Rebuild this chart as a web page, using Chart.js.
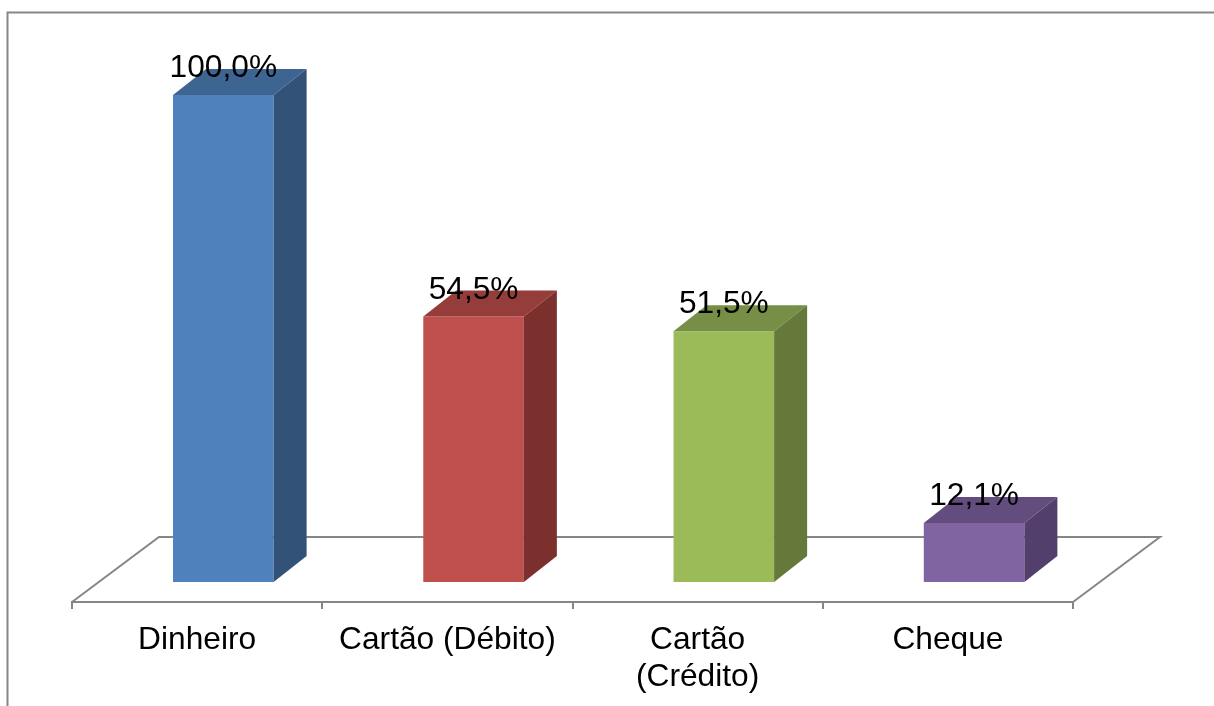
<!DOCTYPE html>
<html>
<head>
<meta charset="utf-8">
<title>Chart</title>
<style>
  html, body { margin: 0; padding: 0; background: #fff; overflow: hidden; }
  canvas { display: block; }
</style>
<script src="https://cdn.jsdelivr.net/npm/chart.js@4"></script>
</head>
<body>
<canvas id="paymentChart" width="1214" height="706"></canvas>
<script>
const categories = ["Dinheiro", "Cartão (Débito)", ["Cartão", "(Crédito)"], "Cheque"];
const percentages = [100, 54.5, 51.5, 12.1];
const frontColors = ["#4F81BD", "#C0504D", "#9BBB59", "#8064A2"];
const topColors = ["#3E6592", "#943D3B", "#768E45", "#634D7E"];
const sideColors = ["#325278", "#7B302E", "#65793A", "#533F6B"];

const GREY = "#868686";
const FONT = "'Liberation Sans', Arial, sans-serif";
const FONT_SIZE = 31.7;
const BAR_SHIFT = 26.2; // bars sit further back on the floor than the axis
const DEPTH_X = 33;
const DEPTH_Y = 26;
const FLOOR_X = 87;
const FLOOR_Y = 65;

function polygon(ctx, points, color) {
  ctx.fillStyle = color;
  ctx.beginPath();
  points.forEach(([x, y], i) => (i ? ctx.lineTo(x, y) : ctx.moveTo(x, y)));
  ctx.closePath();
  ctx.fill();
}

const fake3d = {
  id: "fake3d",
  afterDatasetsUpdate(chart) {
    chart.getDatasetMeta(0).data.forEach((bar) => {
      bar.x += BAR_SHIFT;
    });
  },
  beforeDraw(chart) {
    // outer frame, only top and left show in the picture
    const ctx = chart.ctx;
    ctx.save();
    ctx.strokeStyle = GREY;
    ctx.lineWidth = 2;
    ctx.beginPath();
    ctx.moveTo(7.5, 706);
    ctx.lineTo(7.5, 12.5);
    ctx.lineTo(1214, 12.5);
    ctx.stroke();
    ctx.restore();
  },
  beforeDatasetsDraw(chart) {
    // floor behind the bars
    const ctx = chart.ctx;
    const { left, right, bottom } = chart.chartArea;
    ctx.save();
    ctx.strokeStyle = GREY;
    ctx.lineWidth = 2;
    ctx.beginPath();
    ctx.moveTo(left, bottom);
    ctx.lineTo(left + FLOOR_X, bottom - FLOOR_Y);
    ctx.lineTo(right + FLOOR_X, bottom - FLOOR_Y);
    ctx.lineTo(right, bottom);
    ctx.stroke();
    ctx.restore();
  },
  afterDatasetsDraw(chart) {
    const ctx = chart.ctx;
    ctx.save();
    chart.getDatasetMeta(0).data.forEach((bar, i) => {
      const x0 = bar.x - bar.width / 2;
      const x1 = bar.x + bar.width / 2;
      polygon(ctx, [[x0, bar.y], [x0 + DEPTH_X, bar.y - DEPTH_Y], [x1 + DEPTH_X, bar.y - DEPTH_Y], [x1, bar.y]], topColors[i]);
      polygon(ctx, [[x1, bar.y], [x1 + DEPTH_X, bar.y - DEPTH_Y], [x1 + DEPTH_X, bar.base - DEPTH_Y], [x1, bar.base]], sideColors[i]);
    });
    ctx.fillStyle = "#000";
    ctx.font = FONT_SIZE + "px " + FONT;
    ctx.textAlign = "center";
    ctx.textBaseline = "alphabetic";
    chart.getDatasetMeta(0).data.forEach((bar, i) => {
      const text = percentages[i].toFixed(1).replace(".", ",") + "%";
      ctx.fillText(text, bar.x, bar.y - 18);
    });
    ctx.restore();
  },
};

new Chart(document.getElementById("paymentChart"), {
  type: "bar",
  data: {
    labels: categories,
    datasets: [
      {
        data: percentages,
        backgroundColor: frontColors,
        borderWidth: 0,
        barPercentage: 0.402,
        categoryPercentage: 1,
      },
    ],
  },
  options: {
    responsive: false,
    animation: false,
    layout: { padding: { left: 72, right: 141, top: 95, bottom: 0 } },
    plugins: { legend: { display: false }, tooltip: { enabled: false } },
    scales: {
      y: { display: false, min: -4.1, max: 100 },
      x: {
        afterFit(scale) {
          scale.height = 104;
        },
        border: { color: GREY, width: 2 },
        grid: { color: GREY, lineWidth: 2, drawOnChartArea: false, tickLength: 7 },
        ticks: {
          color: "#000",
          font: { family: FONT, size: FONT_SIZE, lineHeight: 1.17 },
          padding: 13,
          maxRotation: 0,
          autoSkip: false,
        },
      },
    },
  },
  plugins: [fake3d],
});
</script>
</body>
</html>
